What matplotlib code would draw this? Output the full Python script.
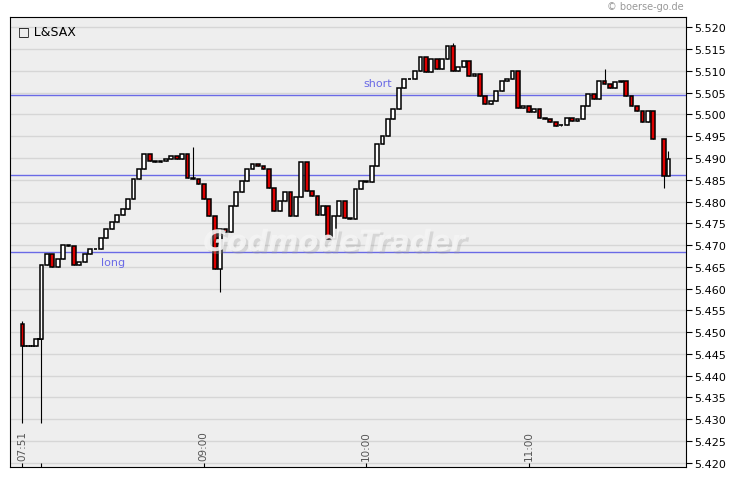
import numpy as np
import matplotlib
matplotlib.use("Agg")
import matplotlib.pyplot as plt
from matplotlib.patches import Rectangle
import matplotlib.patheffects as pe

# minutes relative to 09:00
pre_times = [-67, -66, -65, -64, -63, -62, -61, -60.5, -60.2]
pre_closes = [5.4467, 5.4467, 5.4467, 5.4467, 5.4467, 5.4485, 5.4485, 5.4485, 5.4485]
first_open = 5.4518

closes = [5.4655, 5.468, 5.465, 5.4667, 5.470, 5.4698, 5.4655, 5.466, 5.468, 5.469,
          5.469, 5.4717, 5.4736, 5.4752, 5.477, 5.4782, 5.4805, 5.4851, 5.4874, 5.4909,
          5.4893, 5.489, 5.4893, 5.4897, 5.4905, 5.4897, 5.4909, 5.4855, 5.4851, 5.4840,
          5.4805, 5.4767, 5.4644, 5.4736, 5.4729, 5.479, 5.4821, 5.4848, 5.4874, 5.4886,
          5.4882, 5.4874, 5.4832, 5.4779, 5.4802, 5.4821, 5.4767, 5.481, 5.489, 5.4825,
          5.4813, 5.477, 5.479, 5.4713, 5.4767, 5.4802, 5.4763, 5.476, 5.4828, 5.4848,
          5.4845, 5.4882, 5.4932, 5.4951, 5.4989, 5.5012, 5.5062, 5.5081, 5.5081, 5.510,
          5.5131, 5.5097, 5.5127, 5.5104, 5.5127, 5.5158, 5.510, 5.5108, 5.5123, 5.5089,
          5.5093, 5.5043, 5.5024, 5.5031, 5.5054, 5.5077, 5.5081, 5.510, 5.5016, 5.502,
          5.5005, 5.5012, 5.4993, 5.4989, 5.4982, 5.4974, 5.4975, 5.4993, 5.4985, 5.4989,
          5.502, 5.5047, 5.5035, 5.5077, 5.507, 5.5062, 5.5074, 5.5077, 5.5043, 5.502,
          5.5008, 5.4982, 5.5008, 5.4943, 5.4859, 5.4897]
n_main = len(closes) - 2
times = list(-60 + 2 * np.arange(n_main)) + [170, 171.6]

spikes_low = {-67: 5.429, -60: 5.429, 6: 5.4593, 170: 5.483}
spikes_high = {-67: 5.4525, -4: 5.4925, 92: 5.5165, 148: 5.5105, 171.6: 5.4915}

levels = [5.5045, 5.486, 5.4685]
yticks = [5.420 + 0.005 * i for i in range(21)]
xlabels = {-67: "07:51", 0: "09:00", 60: "10:00", 120: "11:00"}

fig = plt.figure(figsize=(7.30, 4.81), dpi=100)
ax = fig.add_axes([10 / 730, 13 / 481, 676 / 730, 450 / 481])
ax.set_facecolor("#eeeeee")
ax.set_xlim(-71.6, 178.1)
ax.set_ylim(5.419, 5.5224)

for y in yticks:
    ax.axhline(y, color="#d6d6d6", lw=1, zorder=1)
for y in levels:
    ax.axhline(y, color="#6a6ae6", lw=1, zorder=2)

all_t = pre_times + times
all_c = pre_closes + closes
prev = first_open
w = 1.4
for t, c in zip(all_t, all_c):
    o = prev
    hi = max(o, c, spikes_high.get(t, 0))
    lo = min(o, c, spikes_low.get(t, 10))
    ax.vlines(t, lo, hi, color="black", lw=0.8, zorder=3)
    col = "white" if c >= o else "#dd0000"
    h = abs(c - o)
    if h < 0.0001:
        ax.hlines(c, t - w / 2, t + w / 2, color="black", lw=1.2, zorder=4)
    else:
        ax.add_patch(Rectangle((t - w / 2, min(o, c)), w, h, facecolor=col,
                               edgecolor="black", lw=1.1, zorder=4))
    prev = c

ax.text(-38, 5.4673, "long", color="#6a6ae6", fontsize=8, va="top")
ax.text(59, 5.5062, "short", color="#6a6ae6", fontsize=8, va="bottom")

ax.text(48, 5.4705, "GodmodeTrader", fontsize=21, fontweight="bold", style="italic",
        color="#f4f4f4", ha="center", va="center", zorder=5, alpha=0.9,
        path_effects=[pe.withSimplePatchShadow(offset=(2, -2), shadow_rgbFace="#a0a0a0")])

ax.yaxis.tick_right()
ax.set_yticks(yticks)
ax.set_yticklabels([f"{v:.3f}" for v in yticks], fontsize=8)
ax.tick_params(axis="y", length=4, pad=2)
ax.set_xticks([-67, -60, 0, 60, 120])
ax.set_xticklabels([])
ax.tick_params(axis="x", direction="in", length=3)
for t, lab in xlabels.items():
    ax.text(t, 5.4206, lab, rotation=90, fontsize=7.5, color="#555555",
            ha="center", va="bottom")

ax.text(0.012, 0.985, "\u25a1 L&SAX", transform=ax.transAxes, fontsize=9,
        va="top", ha="left")
fig.text(684 / 730, 1 - 7 / 481, "\u00a9 boerse-go.de", fontsize=7, color="#999999",
         ha="right", va="center")
for s in ax.spines.values():
    s.set_color("black")

fig.savefig("out.png", dpi=100)
